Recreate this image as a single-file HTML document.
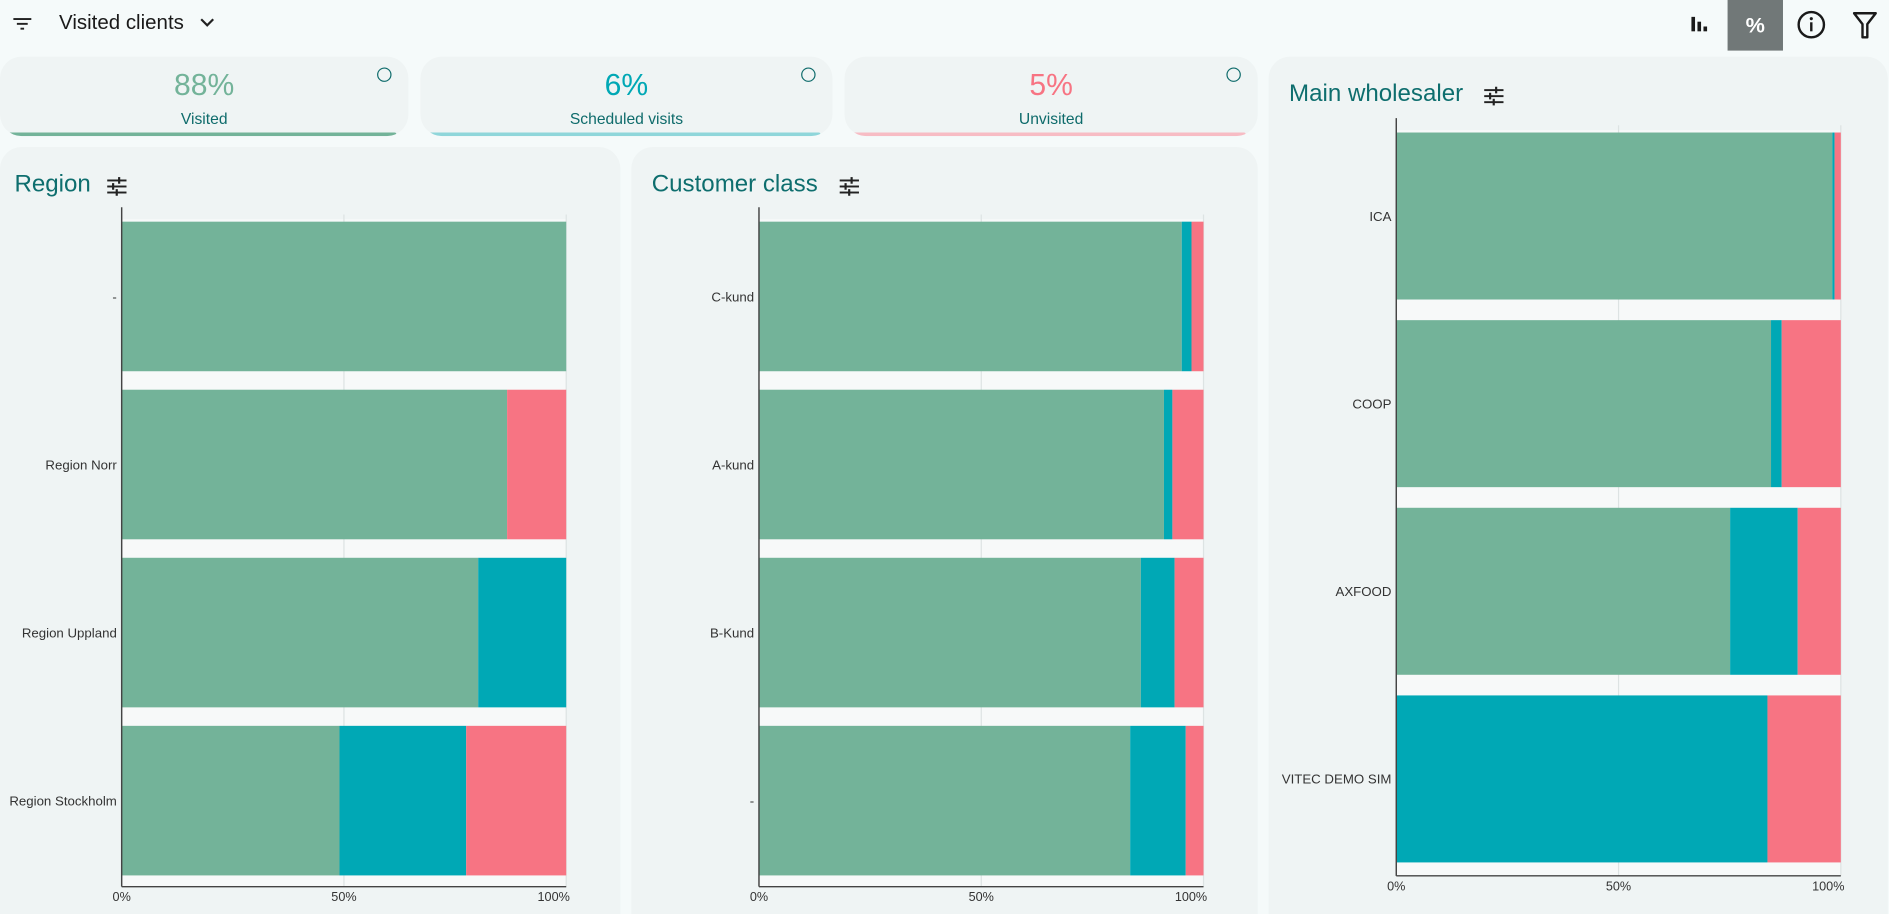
<!DOCTYPE html>
<html><head><meta charset="utf-8"><style>
html,body{margin:0;padding:0;width:1889px;height:914px;overflow:hidden;background:#f5fafa;font-family:"Liberation Sans",sans-serif}
#wrap{position:absolute;left:0;top:0;width:1568px;height:759px;overflow:hidden;transform:scale(1.20472);transform-origin:0 0}
.abs{position:absolute}
.card{position:absolute;background:#eff4f4;border-radius:18px;overflow:hidden}
.kval{position:absolute;left:0;right:0;top:10px;text-align:center;font-size:25px}
.klab{position:absolute;left:0;right:0;top:44px;text-align:center;font-size:13px;color:#0e6b6b}
.kbar{position:absolute;left:6px;right:10px;bottom:0;height:3px;border-radius:2px}
.kdot{position:absolute;top:9px;right:14px;width:10px;height:10px;border:1.5px solid #0e6b6b;border-radius:50%}
.title{position:absolute;font-size:20px;color:#0e6e6e}
svg text{font-family:"Liberation Sans",sans-serif}
</style></head><body>
<div id="wrap">
<div class="abs" style="left:0;top:0;width:1568px;height:45px;background:#f5fafa">
 <svg class="abs" style="left:11px;top:13px" width="16" height="14"><rect x="0" y="2" width="15" height="1.6" fill="#222"/><rect x="3" y="6" width="9" height="1.6" fill="#222"/><rect x="6" y="10" width="3" height="1.6" fill="#222"/></svg>
 <div class="abs" style="left:49px;top:9px;font-size:17px;color:#1a1a1a;font-weight:500">Visited clients</div>
 <svg class="abs" style="left:165px;top:14px" width="14" height="10"><path d="M2 2 L7 7 L12 2" stroke="#222" stroke-width="1.8" fill="none"/></svg>
 <svg class="abs" style="left:1403px;top:12px" width="16" height="16"><rect x="1" y="2" width="3" height="12" fill="#1a1a1a"/><rect x="6" y="6" width="3" height="8" fill="#1a1a1a"/><rect x="11" y="10" width="3" height="4" fill="#1a1a1a"/></svg>
 <div class="abs" style="left:1434px;top:0;width:46px;height:42px;background:#717878;color:#fff;font-size:18px;font-weight:bold;text-align:center;line-height:42px">%</div>
 <svg class="abs" style="left:1491px;top:8px" width="25" height="25"><circle cx="12.5" cy="12.5" r="10.5" stroke="#1a1a1a" stroke-width="2" fill="none"/><rect x="11.5" y="10.5" width="2" height="7.5" fill="#1a1a1a"/><circle cx="12.5" cy="7.5" r="1.3" fill="#1a1a1a"/></svg>
 <svg class="abs" style="left:1538px;top:9px" width="20" height="24"><path d="M1 2 H19 L12 11 V22 H8 V11 Z" fill="none" stroke="#1a1a1a" stroke-width="2" stroke-linejoin="round"/></svg>
</div>

<div class="card" style="left:0;top:47px;width:339px;height:66px"><div class="kval" style="color:#73b399">88%</div><div class="klab">Visited</div><div class="kdot"></div><div class="kbar" style="background:#73b399"></div></div>
<div class="card" style="left:349px;top:47px;width:342px;height:66px"><div class="kval" style="color:#00a8b5">6%</div><div class="klab">Scheduled visits</div><div class="kdot"></div><div class="kbar" style="background:#8fd6da"></div></div>
<div class="card" style="left:701px;top:47px;width:343px;height:66px"><div class="kval" style="color:#f77483">5%</div><div class="klab">Unvisited</div><div class="kdot"></div><div class="kbar" style="background:#f7bcc4"></div></div>

<div class="card" style="left:0;top:122px;width:515px;height:660px"><div class="title" style="left:12px;top:20px">Region</div><svg class="abs" style="left:88px;top:24px" width="18" height="18"><g fill="#222"><rect x="1" y="3" width="16" height="1.6"/><rect x="1" y="8" width="16" height="1.6"/><rect x="1" y="13" width="16" height="1.6"/><rect x="10" y="1" width="1.8" height="5.5"/><rect x="5" y="6" width="1.8" height="5.5"/><rect x="8" y="11" width="1.8" height="5.5"/></g></svg></div>
<div class="card" style="left:524px;top:122px;width:520px;height:660px"><div class="title" style="left:17px;top:20px">Customer class</div><svg class="abs" style="left:172px;top:24px" width="18" height="18"><g fill="#222"><rect x="1" y="3" width="16" height="1.6"/><rect x="1" y="8" width="16" height="1.6"/><rect x="1" y="13" width="16" height="1.6"/><rect x="10" y="1" width="1.8" height="5.5"/><rect x="5" y="6" width="1.8" height="5.5"/><rect x="8" y="11" width="1.8" height="5.5"/></g></svg></div>
<div class="card" style="left:1053px;top:47px;width:514px;height:740px"><div class="title" style="left:17px;top:20px">Main wholesaler</div><svg class="abs" style="left:178px;top:24px" width="18" height="18"><g fill="#222"><rect x="1" y="3" width="16" height="1.6"/><rect x="1" y="8" width="16" height="1.6"/><rect x="1" y="13" width="16" height="1.6"/><rect x="10" y="1" width="1.8" height="5.5"/><rect x="5" y="6" width="1.8" height="5.5"/><rect x="8" y="11" width="1.8" height="5.5"/></g></svg></div>

<svg id="chart" class="abs" style="left:0;top:0" width="1568" height="759"></svg>
</div>
<script>
const regionCats=["-","Region Norr","Region Uppland","Region Stockholm"];
const regionVisited=[100,86.7,80.2,49];
const regionScheduled=[0,0,19.8,28.5];
const regionUnvisited=[0,13.3,0,22.5];
const custCats=["C-kund","A-kund","B-Kund","-"];
const custVisited=[95.1,91.1,85.9,83.5];
const custScheduled=[2.2,1.9,7.6,12.5];
const custUnvisited=[2.7,7.0,6.5,4.0];
const wsCats=["ICA","COOP","AXFOOD","VITEC DEMO SIM"];
const wsVisited=[98.1,84.3,75.1,0];
const wsScheduled=[0.5,2.4,15.2,83.5];
const wsUnvisited=[1.4,13.3,9.7,16.5];
const tickVals=[0,50,100];
const tickLabels=["0%","50%","100%"];
const colors=["#73b399","#00a8b5","#f77483"];
const NS="http://www.w3.org/2000/svg";
const svg=document.getElementById('chart');
function mk(t,a){const e=document.createElementNS(NS,t);for(const k in a)e.setAttribute(k,a[k]);return e;}
function draw(name,x0,x1,top,bottom,cats,series){
  const g=mk('g',{});
  
  
  svg.appendChild(g);
  const xs=v=>x0+(x1-x0)*v/100;
  const n=cats.length, band=(bottom-top)/n, pad=band*0.05;
  tickVals.forEach((v,i)=>{
    const l=mk('line',{x1:xs(v),x2:xs(v),y1:top,y2:bottom,stroke:'#dde3e3','stroke-width':1});
    
    
    g.appendChild(l);
    const t=mk('text',{x:xs(v),y:bottom+12,'font-size':10.5,fill:'#333','text-anchor':i==0?'middle':(i==2?'end':'middle')});
    if(i==2)t.setAttribute('x',xs(v)+3);
    t.textContent=tickLabels[i];
    
    
    g.appendChild(t);
  });
  const bg=mk('rect',{x:x0,y:top+4,width:x1-x0,height:bottom-top-4,fill:'#f7f9f9',opacity:0.9});
  
  
  g.insertBefore(bg,g.firstChild);
  cats.forEach((c,i)=>{
    const y=top+6+i*band, h=band-pad*2.2;
    let acc=0;
    series.forEach((s,j)=>{
      const v=s[i];
      const r=mk('rect',{x:xs(acc),y:y,width:Math.max(0,xs(acc+v)-xs(acc)),height:h,fill:colors[j]});
      
      
      g.appendChild(r);acc+=v;
    });
    const t=mk('text',{x:x0-4,y:y+h/2+4,'font-size':11,fill:'#333','text-anchor':'end'});
    t.textContent=c;
    
    
    g.appendChild(t);
  });
  const ax=mk('line',{x1:x0,x2:x0,y1:top-6,y2:bottom,stroke:'#444','stroke-width':1.2});
  
  
  g.appendChild(ax);
  const bx=mk('line',{x1:x0,x2:x1,y1:bottom,y2:bottom,stroke:'#444','stroke-width':1.2});
  
  
  g.appendChild(bx);
}
draw('region',101,470,178,736,regionCats,[regionVisited,regionScheduled,regionUnvisited]);
draw('customer-class',630,999,178,736,custCats,[custVisited,custScheduled,custUnvisited]);
draw('wholesaler',1159,1528,104,727,wsCats,[wsVisited,wsScheduled,wsUnvisited]);
</script>
</body></html>
